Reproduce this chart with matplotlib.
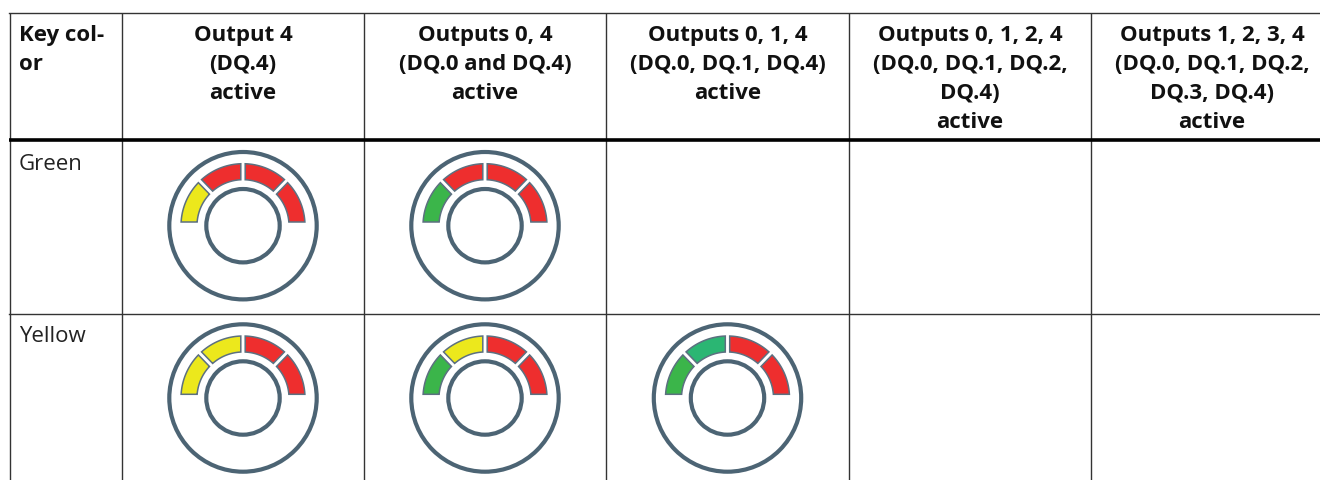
import numpy as np
import matplotlib
matplotlib.use("Agg")
import matplotlib.pyplot as plt
from matplotlib.patches import Circle, Polygon

RED = "#ee2e2e"
YELLOW = "#ece81c"
GREEN = "#3bb54a"
TEAL = "#2bb673"
SLATE = "#4c6474"

headers = [
    ["Key col-", "or"],
    ["Output 4", "(DQ.4)", "active"],
    ["Outputs 0, 4", "(DQ.0 and DQ.4)", "active"],
    ["Outputs 0, 1, 4", "(DQ.0, DQ.1, DQ.4)", "active"],
    ["Outputs 0, 1, 2, 4", "(DQ.0, DQ.1, DQ.2,", "DQ.4)", "active"],
    ["Outputs 1, 2, 3, 4", "(DQ.0, DQ.1, DQ.2,", "DQ.3, DQ.4)", "active"],
]
row_labels = ["Green", "Yellow"]
row_lines = [314]
col_lines = [9.5, 122, 364, 606, 849, 1091]
col_centers = [243, 485, 727.5, 970, 1212]
row_centers = [225.7, 398]

# each icon: column, row, colours of the four segments left to right
icons = [
    (0, 0, [YELLOW, RED, RED, RED]),
    (1, 0, [GREEN, RED, RED, RED]),
    (0, 1, [YELLOW, YELLOW, RED, RED]),
    (1, 1, [GREEN, YELLOW, RED, RED]),
    (2, 1, [GREEN, TEAL, RED, RED]),
]
# gap centre lines in degrees and half width of each gap in pixels
gap_angles = [180, 134, 90, 46, 0]
gap_half = [3.7, 2.2, 2.2, 2.2, 3.7]
R_OUT = 62
R_IN = 46


def segment(cx, cy, i, color):
    """Ring segment with straight parallel cuts at both ends."""
    pts = []
    for r in (R_OUT, R_IN):
        a1 = gap_angles[i] - np.degrees(np.arcsin(gap_half[i] / r))
        a2 = gap_angles[i + 1] + np.degrees(np.arcsin(gap_half[i + 1] / r))
        t = np.radians(np.linspace(a1, a2, 40))
        if r == R_IN:
            t = t[::-1]
        for v in t:
            pts.append((cx + r * np.cos(v), cy - r * np.sin(v)))
    return Polygon(pts, closed=True, fc=color, ec="#5c7080", lw=1.1)


plt.rcParams["font.family"] = ["Open Sans", "DejaVu Sans"]

fig = plt.figure(figsize=(13.2, 4.8), dpi=100)
ax = fig.add_axes([0, 0, 1, 1])
ax.set_xlim(0, 1320)
ax.set_ylim(480, 0)
ax.axis("off")

# grid lines
for x in col_lines:
    ax.plot([x, x], [12.5, 480], color="#333333", lw=1.0, solid_capstyle="butt")
ax.plot([9, 1320], [12.5, 12.5], color="#333333", lw=1.0)
ax.plot([9, 1320], [140, 140], color="black", lw=2.6, solid_capstyle="butt")
for y in row_lines:
    ax.plot([9, 1320], [y, y], color="#333333", lw=1.0)

# header text
for i, lines in enumerate(headers):
    for j, line in enumerate(lines):
        y = 40.5 + 29.3 * j
        if i == 0:
            ax.text(19, y, line, fontsize=16, fontweight="bold", ha="left", va="baseline", color="#111111")
        else:
            ax.text(col_centers[i - 1], y, line, fontsize=16, fontweight="bold", ha="center", va="baseline", color="#111111")

for label, y in zip(row_labels, [170, 342]):
    ax.text(19, y, label, fontsize=16, ha="left", va="baseline", color="#222222")

# icons
for col, row, colors in icons:
    cx = col_centers[col]
    cy = row_centers[row]
    ax.add_patch(Circle((cx, cy), 73.7, fc="none", ec=SLATE, lw=3.0))
    ax.add_patch(Circle((cx, cy), 36.7, fc="none", ec=SLATE, lw=3.0))
    for i, c in enumerate(colors):
        ax.add_patch(segment(cx, cy, i, c))

fig.savefig("out.png", dpi=100)
